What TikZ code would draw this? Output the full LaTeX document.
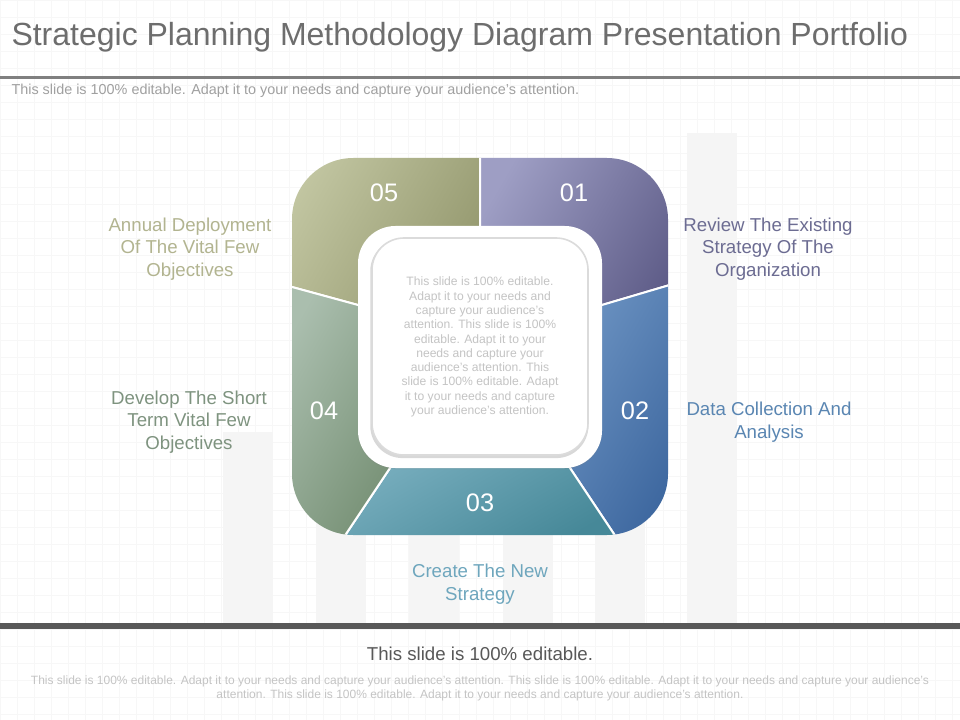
\documentclass[tikz,border=0pt]{standalone}
\usepackage{fontspec}
\setmainfont{Liberation Sans}
\usetikzlibrary{shadows}

\definecolor{titlegray}{RGB}{109,109,109}
\definecolor{rulegray}{RGB}{128,128,128}
\definecolor{darkrule}{RGB}{88,88,88}
\definecolor{subgray}{RGB}{160,160,160}
\definecolor{palegray}{RGB}{196,196,196}
\definecolor{gridgray}{RGB}{247,247,247}
\definecolor{bargray}{RGB}{245,245,245}
% segment colours, light / dark
\definecolor{olivelt}{RGB}{196,200,164}
\definecolor{olivedk}{RGB}{146,150,108}
\definecolor{violetlt}{RGB}{158,158,196}
\definecolor{violetdk}{RGB}{90,88,132}
\definecolor{bluelt}{RGB}{124,162,206}
\definecolor{bluedk}{RGB}{60,102,158}
\definecolor{teallt}{RGB}{146,194,210}
\definecolor{tealdk}{RGB}{70,136,152}
\definecolor{sagelt}{RGB}{170,190,174}
\definecolor{sagedk}{RGB}{98,126,94}
% label colours
\definecolor{olivetxt}{RGB}{178,180,144}
\definecolor{violettxt}{RGB}{108,108,146}
\definecolor{bluetxt}{RGB}{90,134,178}
\definecolor{tealtxt}{RGB}{110,166,189}
\definecolor{sagetxt}{RGB}{126,147,127}

\tikzset{every picture/.style={line width=0.75pt}}
\tikzset{
	seg/.style={draw=white, line width=1.5pt},
	numtxt/.style={text=white, inner sep=0.75pt, font=\fontsize{19}{22}\selectfont},
	steptxt/.style={align=center, inner sep=0.75pt, font=\fontsize{14}{17}\selectfont},
	bar/.style={fill=bargray, draw=none}}

\begin{document}
\begin{tikzpicture}[x=0.75pt,y=0.75pt,yscale=-1,xscale=1]
	\useasboundingbox (0,0) rectangle (960,720);
	\fill[white] (0,0) rectangle (960,720);
	
	%Grid
	\draw[gridgray, line width=0.4pt, step=12.75pt] (0,0) grid (960,720);
	
	%Shape: bars in the background
	\fill[bar] (223,432) rectangle (273,623);
	\fill[bar] (316,330) rectangle (366,623);
	\fill[bar] (409,300) rectangle (459,623);
	\fill[bar] (503,250) rectangle (553,623);
	\fill[bar] (595,300) rectangle (645,623);
	\fill[bar] (687,133) rectangle (737,623);
	
	%Straight Lines: rules
	\draw[rulegray, line width=2.25pt] (0,77.5) -- (960,77.5);
	\draw[darkrule, line width=4.5pt] (0,626) -- (960,626);
	
	%Shape: ring of five segments
	\begin{scope}
		\clip[rounded corners=46pt] (292,158) rectangle (668,535);
		% 05
		\draw[seg, top color=olivelt, bottom color=olivedk, shading angle=60] (480,140) -- (480,346) -- (358,305) -- (270,281) -- (270,140) -- cycle;
		% 01
		\draw[seg, top color=violetlt, bottom color=violetdk, shading angle=60] (480,140) -- (690,140) -- (690,279) -- (602,305) -- (480,346) -- cycle;
		% 02
		\draw[seg, top color=bluelt, bottom color=bluedk, shading angle=60] (690,279) -- (602,305) -- (480,346) -- (570,468) -- (628,555) -- (690,555) -- cycle;
		% 03
		\draw[seg, top color=teallt, bottom color=tealdk, shading angle=30] (480,346) -- (570,468) -- (628,555) -- (332,555) -- (390,468) -- cycle;
		% 04
		\draw[seg, top color=sagelt, bottom color=sagedk, shading angle=60] (270,281) -- (358,305) -- (480,346) -- (390,468) -- (332,555) -- (270,555) -- cycle;
	\end{scope}
	
	%Shape: white frame and centre box
	\fill[white, rounded corners=28pt, drop shadow={opacity=0.15, shadow xshift=0pt, shadow yshift=-1pt}] (358,226) rectangle (602,468);
	\draw[white, draw=black!14, line width=1.2pt, fill=white, rounded corners=24pt, drop shadow={opacity=0.3, shadow xshift=-0.5pt, shadow yshift=-1.5pt, shadow scale=1.01}] (372,238) rectangle (588,455);
	
	% Text Node
	\draw (10,37) node (title) [anchor=west][inner sep=0.75pt] [text=titlegray, font=\fontsize{24}{28}\selectfont] {Strategic Planning Methodology Diagram Presentation Portfolio};
	% Text Node
	\draw (10,91) node (subtitle) [anchor=west][inner sep=0.75pt] [text=subgray, font=\fontsize{10.8}{12}\selectfont] {This slide is 100\% editable. Adapt it to your needs and capture your audience's attention.};
	
	% Text Node
	\draw (384,193) node (n05) [numtxt] {05};
	% Text Node
	\draw (574,193) node (n01) [numtxt] {01};
	% Text Node
	\draw (635,411) node (n02) [numtxt] {02};
	% Text Node
	\draw (480,503) node (n03) [numtxt] {03};
	% Text Node
	\draw (324,411) node (n04) [numtxt] {04};
	
	% Text Node
	\draw (480,347) node (centre) [align=center][inner sep=0.75pt] [text=palegray, font=\fontsize{9.1}{10.7}\selectfont] {This slide is 100\% editable.\\Adapt it to your needs and\\capture your audience's\\attention. This slide is 100\%\\editable. Adapt it to your\\needs and capture your\\audience's attention. This\\slide is 100\% editable. Adapt\\it to your needs and capture\\your audience's attention.};
	
	% Text Node
	\draw (768,249) node (review) [steptxt, text=violettxt] {Review The Existing\\Strategy Of The\\Organization};
	% Text Node
	\draw (769,422) node (data) [steptxt, text=bluetxt] {Data Collection And\\Analysis};
	% Text Node
	\draw (480,584) node (create) [steptxt, text=tealtxt] {Create The New\\Strategy};
	% Text Node
	\draw (189,422) node (develop) [steptxt, text=sagetxt] {Develop The Short\\Term Vital Few\\Objectives};
	% Text Node
	\draw (190,249) node (annual) [steptxt, text=olivetxt] {Annual Deployment\\Of The Vital Few\\Objectives};
	
	% Text Node
	\draw (480,654) node (editable) [inner sep=0.75pt] [text=darkrule, font=\fontsize{14}{16}\selectfont] {This slide is 100\% editable.};
	% Text Node
	\draw (480,688) node (footer) [align=center][inner sep=0.75pt] [text=palegray, font=\fontsize{9}{10.5}\selectfont] {This slide is 100\% editable. Adapt it to your needs and capture your audience's attention. This slide is 100\% editable. Adapt it to your needs and capture your audience's\\attention. This slide is 100\% editable. Adapt it to your needs and capture your audience's attention.};
	
\end{tikzpicture}
\end{document}
